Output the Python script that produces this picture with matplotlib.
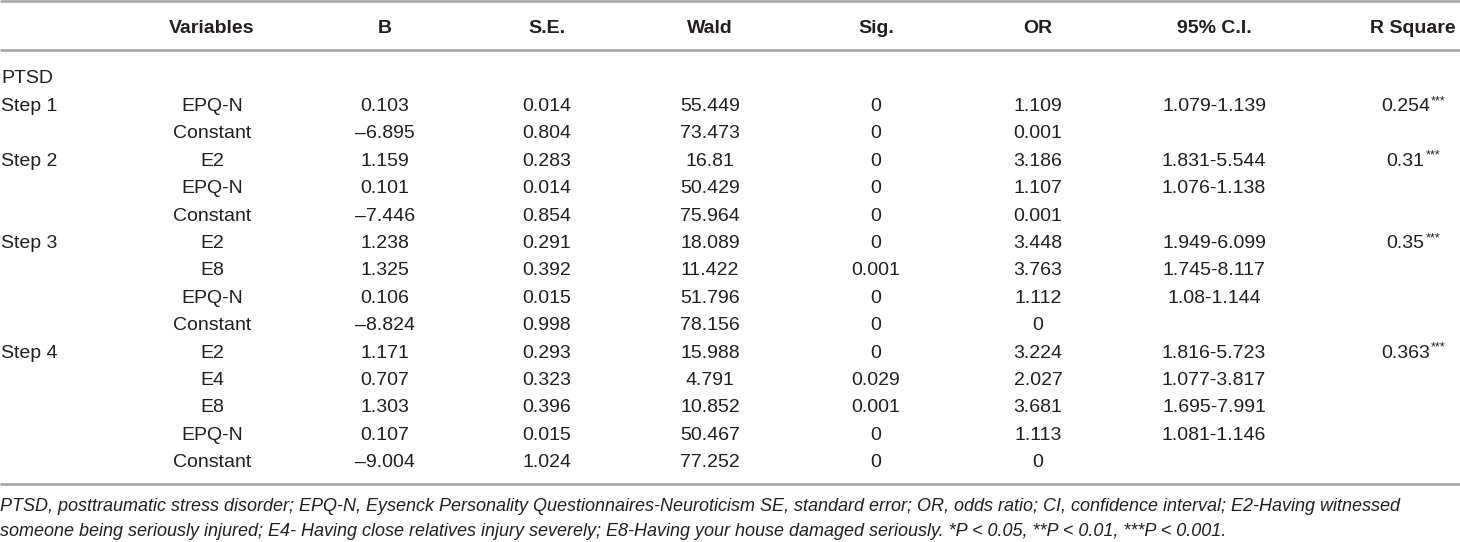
import matplotlib
matplotlib.use("Agg")
import matplotlib.pyplot as plt

# table content
headers = ["Variables", "B", "S.E.", "Wald", "Sig.", "OR", "95% C.I.", "R Square"]

steps = ["Step 1", "", "Step 2", "", "", "Step 3", "", "", "",
         "Step 4", "", "", "", ""]
variables = ["EPQ-N", "Constant",
             "E2", "EPQ-N", "Constant",
             "E2", "E8", "EPQ-N", "Constant",
             "E2", "E4", "E8", "EPQ-N", "Constant"]
b_vals = ["0.103", "–6.895",
          "1.159", "0.101", "–7.446",
          "1.238", "1.325", "0.106", "–8.824",
          "1.171", "0.707", "1.303", "0.107", "–9.004"]
se_vals = ["0.014", "0.804",
           "0.283", "0.014", "0.854",
           "0.291", "0.392", "0.015", "0.998",
           "0.293", "0.323", "0.396", "0.015", "1.024"]
wald_vals = ["55.449", "73.473",
             "16.81", "50.429", "75.964",
             "18.089", "11.422", "51.796", "78.156",
             "15.988", "4.791", "10.852", "50.467", "77.252"]
sig_vals = ["0", "0",
            "0", "0", "0",
            "0", "0.001", "0", "0",
            "0", "0.029", "0.001", "0", "0"]
or_vals = ["1.109", "0.001",
           "3.186", "1.107", "0.001",
           "3.448", "3.763", "1.112", "0",
           "3.224", "2.027", "3.681", "1.113", "0"]
ci_vals = ["1.079-1.139", "",
           "1.831-5.544", "1.076-1.138", "",
           "1.949-6.099", "1.745-8.117", "1.08-1.144", "",
           "1.816-5.723", "1.077-3.817", "1.695-7.991", "1.081-1.146", ""]
r2_vals = ["0.254", "",
           "0.31", "", "",
           "0.35", "", "", "",
           "0.363", "", "", "", ""]
r2_stars = ["***", "", "***", "", "", "***", "", "", "", "***", "", "", "", ""]

footnote = [
    "PTSD, posttraumatic stress disorder; EPQ-N, Eysenck Personality Questionnaires-Neuroticism SE, "
    "standard error; OR, odds ratio; CI, confidence interval; E2-Having witnessed",
    "someone being seriously injured; E4- Having close relatives injury severely; "
    "E8-Having your house damaged seriously. *P < 0.05, **P < 0.01, ***P < 0.001.",
]

# layout (pixels)
W, H = 1460, 542
col_x = [212, 385, 547, 710, 876, 1038, 1214, 1413]
header_base = 33
group_base = 83
row_base0 = 111
row_step = 27.4
line_color = "#a3a3a3"
text_color = "#231f20"
FONT = "Liberation Sans"
FS = 14


def main():
    fig = plt.figure(figsize=(W / 100, H / 100), dpi=100)
    ax = fig.add_axes([0, 0, 1, 1])
    ax.set_xlim(0, W)
    ax.set_ylim(H, 0)
    ax.axis("off")

    # rules
    ax.hlines([1.3, 49.7, 484], 0, W, colors=line_color, linewidth=1.8)

    for x, h in zip(col_x, headers):
        ax.text(x, header_base, h, ha="center", va="baseline", fontsize=FS,
                fontweight="bold", family=FONT, color=text_color)

    ax.text(1, group_base, "PTSD", ha="left", va="baseline", fontsize=FS,
            family=FONT, color=text_color)

    columns = [variables, b_vals, se_vals, wald_vals, sig_vals, or_vals, ci_vals]
    for i in range(len(variables)):
        y = row_base0 + i * row_step
        if steps[i]:
            ax.text(1, y, steps[i], ha="left", va="baseline", fontsize=FS,
                    family=FONT, color=text_color)
        for x, col in zip(col_x, columns):
            if col[i]:
                ax.text(x, y, col[i], ha="center", va="baseline", fontsize=FS,
                        family=FONT, color=text_color)

    # R square with superscript stars, centred as a pair
    fig.canvas.draw()
    renderer = fig.canvas.get_renderer()
    for i in range(len(r2_vals)):
        if not r2_vals[i]:
            continue
        y = row_base0 + i * row_step
        t1 = ax.text(0, y, r2_vals[i], ha="left", va="baseline", fontsize=FS,
                     family=FONT, color=text_color)
        t2 = ax.text(0, y - 7, r2_stars[i], ha="left", va="baseline", fontsize=9,
                     family=FONT, color=text_color)
        w1 = t1.get_window_extent(renderer).width
        w2 = t2.get_window_extent(renderer).width
        x0 = col_x[7] - (w1 + w2) / 2
        t1.set_x(x0)
        t2.set_x(x0 + w1 + 1)

    for k, line in enumerate(footnote):
        ax.text(0, 511 + k * 25, line, ha="left", va="baseline", fontsize=13.0,
                style="italic", family=FONT, color=text_color)

    fig.savefig("out.png", dpi=100)
    plt.close(fig)


if __name__ == "__main__":
    main()
